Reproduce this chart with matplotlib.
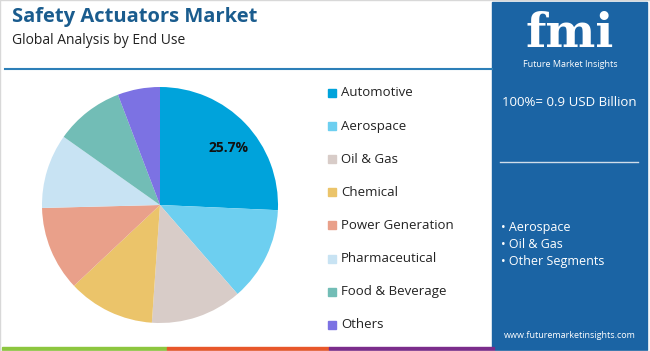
import numpy as np
import matplotlib.pyplot as plt
from matplotlib.patches import Rectangle
from matplotlib.lines import Line2D

# Data
segments = ["Automotive", "Aerospace", "Oil & Gas", "Chemical",
            "Power Generation", "Pharmaceutical", "Food & Beverage", "Others"]
shares = [25.7, 12.9, 12.5, 11.9, 11.6, 10.2, 9.4, 5.8]
colors = ["#00A3DB", "#6DCFF0", "#D8CCC8", "#EBC46A",
          "#E9A08A", "#C8E3F3", "#72BDB6", "#7C72E3"]
highlight = ["Aerospace", "Oil & Gas", "Other Segments"]
total_text = "100%= 0.9 USD Billion"

W, H = 650, 351
PANEL = "#1B64A4"
plt.rcParams["font.family"] = ["Open Sans", "DejaVu Sans"]

fig = plt.figure(figsize=(W / 100, H / 100), dpi=100)
fig.patch.set_facecolor("white")


def fx(px):
    return px / W


def fy(py):
    return 1 - py / H


# Title block
fig.text(fx(12), fy(17), "Safety Actuators Market", fontsize=14.5, fontweight="bold",
         color="#1A5C8E", va="center", ha="left")
fig.text(fx(12), fy(40), "Global Analysis by End Use", fontsize=10,
         color="#222222", va="center", ha="left")
fig.add_artist(Line2D([fx(5), fx(492)], [fy(68.5), fy(68.5)], color="#2D7FB8", lw=1.5))

# Pie chart
cx, cy, r = 160, 205, 118
ax = fig.add_axes([fx(cx - r), fy(cy + r), 2 * r / W, 2 * r / H])
wedges, _ = ax.pie(shares, colors=colors, startangle=90, counterclock=False,
                   radius=1.0)
ax.set_aspect("equal")
ax.set_xlim(-1, 1)
ax.set_ylim(-1, 1)
ax.axis("off")
# only the biggest slice carries a label
w0 = wedges[0]
mid = np.deg2rad((w0.theta1 + w0.theta2) / 2 - 4)
ax.text(0.76 * np.cos(mid), 0.76 * np.sin(mid), f"{shares[0]}%", fontsize=10,
        fontweight="bold", color="#111111", ha="center", va="center")

# Legend
y0, step = 93, 33.1
for i, (name, col) in enumerate(zip(segments, colors)):
    y = y0 + i * step
    fig.add_artist(Rectangle((fx(328), fy(y + 4)), 8 / W, 8 / H, color=col,
                             transform=fig.transFigure))
    fig.text(fx(341), fy(y), name, fontsize=9.5, color="#222222",
             va="center", ha="left")

# Right info panel
fig.add_artist(Rectangle((fx(492), fy(350)), (647 - 492) / W, (350 - 2) / H,
                         color=PANEL, transform=fig.transFigure))
fig.text(fx(570), fy(47), "fmi", fontsize=34, fontweight="bold", color="white",
         family="DejaVu Serif", ha="center", va="baseline")
# stripes through the logo
for yy in np.arange(17, 48, 4.5):
    fig.add_artist(Line2D([fx(510), fx(630)], [fy(yy), fy(yy)], color=PANEL, lw=1.2))
fig.text(fx(570), fy(60), "Future Market Insights", fontsize=6.5, color="white",
         ha="center", va="top")
fig.text(fx(569), fy(102), total_text, fontsize=9.5, color="white",
         ha="center", va="center")
fig.add_artist(Line2D([fx(500), fx(638)], [fy(162), fy(162)], color="#D0DDEA", lw=1))
for i, item in enumerate(highlight):
    fig.text(fx(501), fy(228 + i * 17), "\u2022 " + item, fontsize=9,
             color="white", ha="left", va="center")
fig.text(fx(570), fy(335), "www.futuremarketinsights.com", fontsize=6.5,
         color="white", ha="center", va="center")

# Bottom colour strip
strip = [("#8DC63F", 2, 167), ("#E8572A", 167, 329), ("#7B2D8B", 329, 494)]
for col, a, b in strip:
    fig.add_artist(Rectangle((fx(a), fy(350)), (b - a) / W, 3 / H, color=col,
                             transform=fig.transFigure))

# thin outer frame
fig.add_artist(Rectangle((0, 0), 1, 1, fill=False, edgecolor="#D8D8D8", lw=1,
                         transform=fig.transFigure))

fig.savefig("out.png", dpi=100, facecolor="white")
